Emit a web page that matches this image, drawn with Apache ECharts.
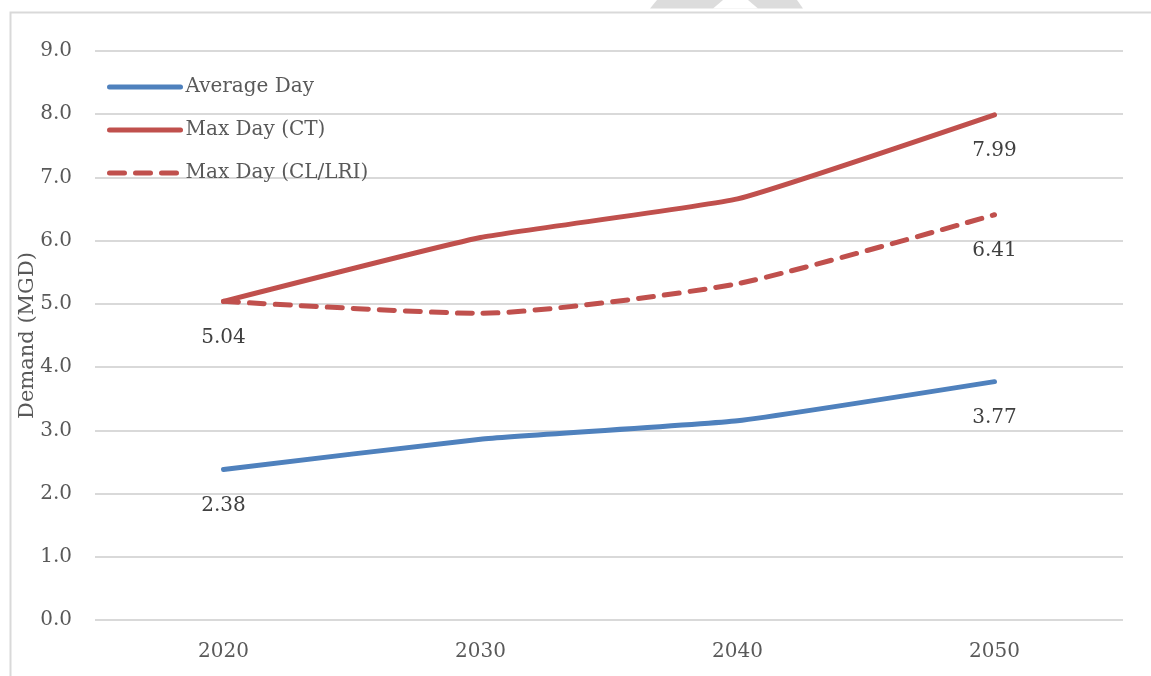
<!DOCTYPE html>
<html>
<head>
<meta charset="utf-8">
<script src="https://cdn.jsdelivr.net/npm/echarts@6/dist/echarts.min.js"></script>
<style>
html,body{margin:0;padding:0;background:#fff;}
#chart{width:1151px;height:676px;}
</style>
</head>
<body>
<div id="chart"></div>
<script>
const categories = ['2020', '2030', '2040', '2050'];
const averageDay = [2.38, 2.86, 3.15, 3.77];
const maxDayCT = [5.04, 6.05, 6.66, 7.99];
const maxDayCL = [5.04, 4.85, 5.32, 6.41];
const seriesNames = ['Average Day', 'Max Day (CT)', 'Max Day (CL/LRI)'];
const labelIdx = [[0, 3], [0, 3], [3]];

const FONT = 'DejaVu Serif';
const labelStyle = {
  show: true, position: 'bottom', distance: 26,
  color: '#404040', fontFamily: FONT, fontSize: 20,
  formatter: p => Number(p.value).toFixed(2)
};
function mk(vals, idx) {
  return vals.map((v, i) => idx.includes(i) ? { value: v, label: labelStyle } : { value: v });
}

const chart = echarts.init(document.getElementById('chart'), null, { renderer: 'canvas' });
chart.setOption({
  animation: false,
  backgroundColor: '#ffffff',
  textStyle: { fontFamily: FONT },
  graphic: [
    { type: 'rect', left: 8, top: 10, shape: { width: 1200, height: 700 },
      style: { fill: 'none', stroke: '#d9d9d9', lineWidth: 2 }, silent: true },
    { type: 'polygon', shape: { points: [[650, 8.5], [803, 8.5], [797, 0], [657, 0]] },
      style: { fill: '#dcdcdc' }, silent: true },
    { type: 'polygon', shape: { points: [[713, 8.5], [758, 8.5], [748, 0], [723, 0]] },
      style: { fill: '#ffffff' }, silent: true }
  ],
  grid: { left: 95, right: 28, top: 51, bottom: 56, containLabel: false },
  legend: {
    orient: 'vertical', left: 102, top: 72,
    itemWidth: 71, itemHeight: 14, itemGap: 23,
    itemStyle: { opacity: 0 },
    lineStyle: { width: 5, cap: 'round' },
    textStyle: { color: '#595959', fontFamily: FONT, fontSize: 20 },
    data: seriesNames
  },
  xAxis: {
    type: 'category', data: categories, boundaryGap: true,
    axisLine: { show: false }, axisTick: { show: false },
    axisLabel: { color: '#595959', fontFamily: FONT, fontSize: 20, margin: 22 }
  },
  yAxis: {
    type: 'value', min: 0, max: 9, interval: 1,
    name: 'Demand (MGD)', nameLocation: 'middle', nameGap: 57, nameMoveOverlap: false,
    nameTextStyle: { color: '#595959', fontFamily: FONT, fontSize: 21 },
    axisLine: { show: false }, axisTick: { show: false },
    axisLabel: { color: '#595959', fontFamily: FONT, fontSize: 20, margin: 23,
      formatter: v => v.toFixed(1) },
    splitLine: { lineStyle: { color: '#d9d9d9', width: 2 } }
  },
  series: [
    { name: seriesNames[0], type: 'line', data: mk(averageDay, labelIdx[0]),
      symbol: 'circle', symbolSize: 0, showSymbol: true, smooth: 0.12, color: '#4f81bd',
      lineStyle: { color: '#4f81bd', width: 5, cap: 'round', join: 'round' } },
    { name: seriesNames[1], type: 'line', data: mk(maxDayCT, labelIdx[1]),
      symbol: 'circle', symbolSize: 0, showSymbol: true, smooth: 0.12, color: '#c0504d',
      lineStyle: { color: '#c0504d', width: 5, cap: 'round', join: 'round' } },
    { name: seriesNames[2], type: 'line', data: mk(maxDayCL, labelIdx[2]),
      symbol: 'circle', symbolSize: 0, showSymbol: true, smooth: 0.2, color: '#c0504d',
      lineStyle: { color: '#c0504d', width: 5, type: [15, 11], cap: 'round', join: 'round' } }
  ]
});
</script>
</body>
</html>
